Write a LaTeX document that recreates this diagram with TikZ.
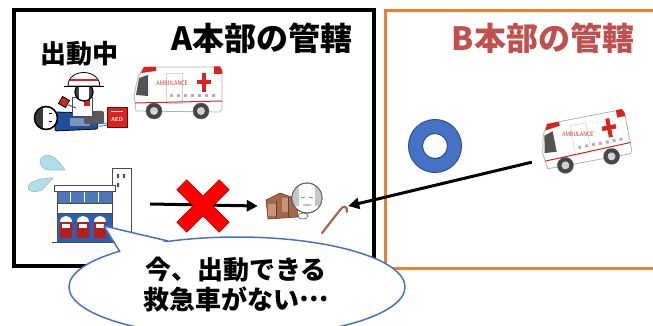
\documentclass[tikz,border=0pt]{standalone}
\usepackage{fontspec}
\newfontfamily\jp{Noto Sans CJK JP}
\usetikzlibrary{arrows.meta}
\definecolor{boxorange}{HTML}{ED7D31}
\definecolor{titlered}{HTML}{C0504D}
\definecolor{donutblue}{HTML}{4472C4}
\definecolor{donutedge}{HTML}{2F528F}
\definecolor{stationblue}{HTML}{2E5FB0}
\definecolor{dropblue}{HTML}{AEDFEA}
\definecolor{elderbrown}{HTML}{A4674A}
\definecolor{elderlight}{HTML}{C99478}
\definecolor{vanred}{HTML}{D9231F}
\definecolor{patientblue}{HTML}{1F4E9A}
\newcommand{\midellipsis}{\raisebox{0.32em}{…}}
\tikzset{
  title/.style={font=\jp\bfseries\fontsize{32}{32}\selectfont, inner sep=0pt},
  label/.style={font=\jp\bfseries\fontsize{26}{30}\selectfont, inner sep=0pt, align=center},
  art/.style={inner sep=0pt, minimum width=#1},
  conn/.style={line width=3pt, -{Triangle[length=11pt,width=11pt]}},
  ambulance/.pic={
    % body
    \draw[gray!60, line width=0.8pt, fill=white, line join=round]
      (2,46) -- (0,30) -- (4,12) -- (10,2) -- (86,2) -- (88,6) -- (88,44) -- (86,47) -- cycle;
    % roof lights
    \fill[vanred] (10,2) -- (22,2) -- (22,6) -- (7,8) -- cycle;
    \fill[vanred] (80,1.5) -- (86,1.5) -- (88,5) -- (88,9) -- (80,9) -- cycle;
    % windshield
    \fill[gray!65!black] (2,30) -- (5,13) -- (14,10) -- (14,31) -- cycle;
    % door
    \draw[gray!35, line width=0.5pt] (32,8) rectangle (48,38);
    % stripe
    \draw[vanred, line width=1pt] (1,38) -- (88,36);
    % lettering
    \node[vanred, inner sep=0pt, font=\sffamily\fontsize{6.5}{6.5}\selectfont, xscale=0.75] at (38,18) {AMBULANCE};
    % cross
    \fill[vanred] (68,8) rectangle (72,27);
    \fill[vanred] (63,15) rectangle (77,19.5);
    % window dots
    \foreach \k in {0,...,6} \fill[gray!60] (36+7*\k,29.5) rectangle ++(3,3);
    % wheels
    \foreach \wx in {20,67} {
      \draw[gray!70!black, fill=gray!55!black] (\wx,46) circle (8pt);
      \fill[gray!35] (\wx,46) circle (4pt);
    }
  }
}
\begin{document}
\begin{tikzpicture}[x=1pt,y=-1pt]
\useasboundingbox (0,0) rectangle (653,326);
\fill[white] (0,0) rectangle (653,326);

% jurisdiction frames
\draw[line width=4pt] (14,10) rectangle (374,266);
\draw[boxorange, line width=3pt] (385,11) rectangle (670,268);

\node[title] (titleA) at (262,38) {A本部の管轄};
\node[title, text=titlered] (titleB) at (543,38) {B本部の管轄};
\node[title, font=\jp\bfseries\fontsize{26}{26}\selectfont] (busy) at (79,54) {出動中};

% ---- paramedic at work ----
% patient
\draw[line width=0.8pt, fill=patientblue, rounded corners=2pt] (55,112) -- (96,113) -- (98,129) -- (55,131) -- cycle;
\fill[patientblue!60] (70,118) rectangle (90,126);
\draw[line width=1.3pt, fill=white] (46,118) circle (11.5pt);
\begin{scope}
  \clip (46,118) circle (11.5pt);
  \fill[gray!45!black] (30,100) rectangle (43,136);
\end{scope}
\draw[line width=1.3pt] (46,118) circle (11.5pt);
\draw[line width=0.6pt] (49,113) -- (52,113) (49,121) -- (52,121);
% paramedic
\fill[gray!70!black, rounded corners=2pt] (84,111) rectangle (104,124);
\draw[gray!60!black, line width=0.7pt, fill=white] (72,97) rectangle (92,116);
\fill[vanred] (84,100) rectangle (90,106);
\draw[line width=1pt, fill=white] (84,92) circle (9pt);
\begin{scope}
  \clip (84,92) circle (9pt);
  \fill[gray!50!black] (73,82) rectangle (79,102);
  \fill[gray!50!black] (89,82) rectangle (95,102);
\end{scope}
\draw[line width=1pt] (84,92) circle (9pt);
\draw[line width=0.8pt, fill=white] (68,86) .. controls (68,68) and (99,68) .. (100,86) -- cycle;
\draw[vanred, line width=1.3pt] (70,80) -- (98,80);
\draw[line width=1pt] (64,87) -- (104,87);
\draw[line width=0.8pt, fill=vanred, rotate around={-30:(64,102)}] (60,98) rectangle (68,106);
\draw[gray!60!black, line width=1pt] (66,104) -- (76,108);
% AED
\draw[red!50!black, line width=0.6pt, fill=vanred] (107,107) rectangle (127,127);
\draw[white, line width=0.8pt] (111,111) -- (123,111);
\node[white, inner sep=0pt, font=\sffamily\bfseries\fontsize{5.5}{5.5}\selectfont] (aed) at (117,120) {AED};
\draw[cyan!60!blue, line width=0.8pt] (95,121) .. controls (100,123) and (103,124) .. (107,123);
\draw[cyan!60!blue, line width=0.8pt] (93,125) .. controls (99,127) and (103,126) .. (107,125);

\pic at (134,65) {ambulance};

% ---- fire station ----
\node[art=100] (station) at (100,204) {};
\draw[dropblue!70!gray, line width=0.7pt, fill=dropblue]
  (65,170) .. controls (58,160) and (52,153) .. (44,156) .. controls (37,159) and (40,170) .. (50,170) -- cycle;
\draw[dropblue!70!gray, line width=0.7pt, fill=dropblue]
  (53,178) .. controls (44,178) and (30,180) .. (28,187) .. controls (27,192) and (36,193) .. (42,190) -- cycle;
\draw[gray!60!black, line width=0.8pt, fill=white] (112,168) rectangle (131,242);
\fill[gray!60!black] (117,174) rectangle (119,178) (123,174) rectangle (125,178) (117,183) rectangle (119,187);
\draw[gray!60!black, line width=0.8pt, fill=white] (54,185) rectangle (115,191);
\draw[gray!60!black, line width=0.8pt, fill=stationblue!85] (57,191) rectangle (112,203);
\foreach \dx in {70,84,98} \draw[white, line width=1pt] (\dx,192) -- (\dx,202);
\draw[gray!60!black, line width=0.8pt, fill=white] (57,203) rectangle (112,213);
\draw[gray!60!black, line width=0.8pt, fill=stationblue] (57,213) rectangle (112,242);
\foreach \ex in {66,83,100} {
  \fill[white] (\ex-6,222) .. controls (\ex-6,214) and (\ex+6,214) .. (\ex+6,222) -- cycle;
  \fill[vanred!85!black] (\ex-6,222) rectangle (\ex+6,238);
  \fill[white] (\ex-4,224) rectangle (\ex+4,228);
}
\draw[gray!60!black, line width=1pt] (52,242) -- (133,242);

% ---- fallen elderly person ----
\node[art=90] (elder) at (303,206) {};
\draw[elderbrown!60!black, line width=0.6pt, fill=elderbrown] (266,200) -- (280,193) -- (297,199) -- (298,217) -- (268,219) -- cycle;
\fill[elderlight] (268,204) rectangle (276,216);
\fill[elderlight] (282,198) rectangle (288,212);
\draw[elderbrown!60!black, line width=0.5pt] (276,201) -- (276,218) (288,197) -- (288,217);
\draw[gray!70!black, line width=0.8pt, fill=white] (307,198) circle (15pt);
\begin{scope}
  \clip (307,198) circle (15pt);
  \fill[gray!45] (290,180) rectangle (299,206);
  \fill[gray!45] (315,180) rectangle (324,206);
\end{scope}
\draw[gray!70!black, line width=0.8pt] (307,198) circle (15pt);
\draw[gray!70!black, line width=0.6pt] (301,198) -- (305,197) (309,197) -- (313,198) (303,205) -- (311,205);
\draw[gray!70!black, line width=0.6pt, fill=white] (303,216) ellipse (5pt and 3pt);
\draw[elderbrown, line width=2.2pt, line cap=round] (322,233) -- (340,210) .. controls (343,205) and (348,206) .. (347,212);

% ---- neighbouring station ----
\draw[donutedge, line width=1pt, fill=donutblue, even odd rule] (435,146) circle (26.5pt) (435,146) circle (12.5pt);
\node[art=108, minimum height=44] (ambB) at (586,140) {};
\pic[rotate=11] at (537,124) {ambulance};

% dispatch routes
\draw[conn] (station.east) -- (elder.west);
\draw[conn] (ambB.south west) -- (elder.east);

% blocked route mark
\node[inner sep=0pt, minimum size=10pt] (cross) at (203,206) {};
\draw[red!75!black, line width=0.8pt, fill=red, rotate around={45:(cross.center)}]
  (196,176) -- (210,176) -- (210,199) -- (233,199) -- (233,213) -- (210,213) -- (210,236) -- (196,236) -- (196,213) -- (173,213) -- (173,199) -- (196,199) -- cycle;

% speech bubble
\draw[donutblue, line width=1.5pt, fill=white] (237,287) ellipse (168pt and 50pt);
\fill[white] (121,254) -- (104,226) -- (169,243) -- (169,246) -- (121,258) -- cycle;
\draw[donutblue, line width=1.5pt, line join=round] (120,252) -- (104,226) -- (168,241);
\node[label] (msg) at (236,285) {今、出動できる\\救急車がない\midellipsis};
\end{tikzpicture}
\end{document}
